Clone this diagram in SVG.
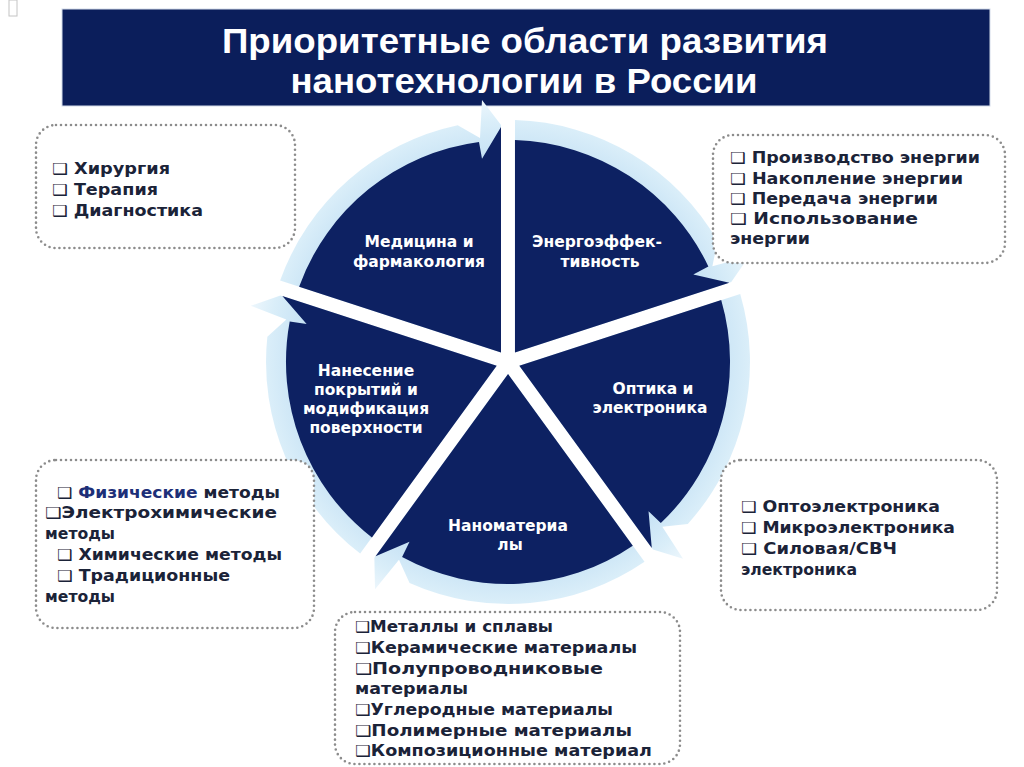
<svg xmlns="http://www.w3.org/2000/svg" width="1024" height="767" viewBox="0 0 1024 767">
<defs>
<radialGradient id="ringGrad" gradientUnits="userSpaceOnUse" cx="0" cy="0" r="262">
<stop offset="0.8" stop-color="#c8e3f5"/>
<stop offset="0.92" stop-color="#daeef9"/>
<stop offset="1" stop-color="#ecf6fc"/>
</radialGradient>
<path id="lightSeg" d="M-7,-9.6 L-227.9,-81.4 A242,242 0 0 1 -50.3,-236.7 L-28,-224 L-26,-262 L-7,-237 Z"/>
<path id="darkSeg" d="M-7,-9.6 L-208.9,-75.2 A222,222 0 0 1 -29,-220.1 L-26,-203.3 L-7,-235 Z"/>
</defs>
<style>
.title{font-family:"Liberation Sans Narrow","Liberation Sans",Arial,sans-serif;font-weight:bold;font-size:35px;fill:#ffffff}
.seglbl{font-family:"DejaVu Sans","Liberation Sans",sans-serif;font-weight:bold;font-size:15.5px;fill:#ffffff;text-anchor:middle}
.box{fill:#ffffff;stroke:#8c8c8c;stroke-width:2.6;stroke-dasharray:0 5;stroke-linecap:round}
.btxt{font-family:"DejaVu Sans","Liberation Sans",sans-serif;font-weight:bold;font-size:15.5px;fill:#1b2338}
.ring{fill:url(#ringGrad)}
.dark{fill:#0d2162}
</style>
<rect width="1024" height="767" fill="#ffffff"/>
<rect x="9" y="0" width="8" height="16" fill="none" stroke="#c4c4c4" stroke-width="1"/>

<g id="header">
<rect x="62" y="9" width="928" height="97" fill="#0b1e5b" stroke="#d4dcea" stroke-width="1"/>
<text class="title" x="525" y="53" text-anchor="middle" textLength="606" lengthAdjust="spacingAndGlyphs">Приоритетные области развития</text>
<text class="title" x="524" y="93" text-anchor="middle" textLength="467" lengthAdjust="spacingAndGlyphs">нанотехнологии в России</text>
</g>

<g id="connectors">
<g transform="translate(508,362)">
<use href="#lightSeg" class="ring"/>
<use href="#lightSeg" class="ring" transform="rotate(72)"/>
<use href="#lightSeg" class="ring" transform="rotate(144)"/>
<use href="#lightSeg" class="ring" transform="rotate(216)"/>
<use href="#lightSeg" class="ring" transform="rotate(288)"/>
</g>
</g>

<g id="box-medicine">
<rect class="box" x="36" y="125" width="259" height="123" rx="20"/>
<text class="btxt" x="52" y="174" textLength="118" lengthAdjust="spacingAndGlyphs">❑ Хирургия</text>
<text class="btxt" x="52" y="195" textLength="106" lengthAdjust="spacingAndGlyphs">❑ Терапия</text>
<text class="btxt" x="52" y="216" textLength="151" lengthAdjust="spacingAndGlyphs">❑ Диагностика</text>
</g>

<g id="box-energy">
<rect class="box" x="713" y="135" width="292" height="128" rx="20"/>
<text class="btxt" x="730" y="163" textLength="250" lengthAdjust="spacingAndGlyphs">❑ Производство энергии</text>
<text class="btxt" x="730" y="183.5" textLength="233" lengthAdjust="spacingAndGlyphs">❑ Накопление энергии</text>
<text class="btxt" x="730" y="204" textLength="208" lengthAdjust="spacingAndGlyphs">❑ Передача энергии</text>
<text class="btxt" x="730" y="224" textLength="188" lengthAdjust="spacingAndGlyphs">❑ Использование</text>
<text class="btxt" x="730" y="244" textLength="80" lengthAdjust="spacingAndGlyphs">энергии</text>
</g>

<g id="box-coating">
<rect class="box" x="36" y="460" width="278" height="168" rx="20"/>
<text class="btxt" x="57" y="498" textLength="223" lengthAdjust="spacingAndGlyphs">❑ <tspan fill="#1d2f78">Физические</tspan> методы</text>
<text class="btxt" x="45" y="518" textLength="232" lengthAdjust="spacingAndGlyphs">❑Электрохимические</text>
<text class="btxt" x="45" y="539" textLength="70" lengthAdjust="spacingAndGlyphs">методы</text>
<text class="btxt" x="57" y="560" textLength="225" lengthAdjust="spacingAndGlyphs">❑ Химические методы</text>
<text class="btxt" x="57" y="581" textLength="173" lengthAdjust="spacingAndGlyphs">❑ Традиционные</text>
<text class="btxt" x="45" y="602" textLength="70" lengthAdjust="spacingAndGlyphs">методы</text>
</g>

<g id="box-optics">
<rect class="box" x="721" y="460" width="276" height="150" rx="20"/>
<text class="btxt" x="741" y="512" textLength="199" lengthAdjust="spacingAndGlyphs">❑ Оптоэлектроника</text>
<text class="btxt" x="741" y="533" textLength="214" lengthAdjust="spacingAndGlyphs">❑ Микроэлектроника</text>
<text class="btxt" x="741" y="554" textLength="156" lengthAdjust="spacingAndGlyphs">❑ Силовая/СВЧ</text>
<text class="btxt" x="741" y="575" textLength="116" lengthAdjust="spacingAndGlyphs">электроника</text>
</g>

<g id="box-nano">
<rect class="box" x="335" y="612" width="345" height="152" rx="20"/>
<text class="btxt" x="355" y="632" textLength="198" lengthAdjust="spacingAndGlyphs">❑Металлы и сплавы</text>
<text class="btxt" x="355" y="652.5" textLength="282" lengthAdjust="spacingAndGlyphs">❑Керамические материалы</text>
<text class="btxt" x="355" y="673.5" textLength="248" lengthAdjust="spacingAndGlyphs">❑Полупроводниковые</text>
<text class="btxt" x="355" y="694" textLength="113" lengthAdjust="spacingAndGlyphs">материалы</text>
<text class="btxt" x="355" y="715" textLength="258" lengthAdjust="spacingAndGlyphs">❑Углеродные материалы</text>
<text class="btxt" x="355" y="735.5" textLength="277" lengthAdjust="spacingAndGlyphs">❑Полимерные материалы</text>
<text class="btxt" x="355" y="756" textLength="297" lengthAdjust="spacingAndGlyphs">❑Композиционные материал</text>
</g>

<g id="seg-medicine">
<use href="#darkSeg" class="dark" transform="translate(508,362)"/>
<text class="seglbl" x="419" y="247">Медицина и</text>
<text class="seglbl" x="419" y="267">фармакология</text>
</g>
<g id="seg-energy">
<use href="#darkSeg" class="dark" transform="translate(508,362) rotate(72)"/>
<text class="seglbl" x="597" y="247">Энергоэффек-</text>
<text class="seglbl" x="600" y="267">тивность</text>
</g>
<g id="seg-optics">
<use href="#darkSeg" class="dark" transform="translate(508,362) rotate(144)"/>
<text class="seglbl" x="653" y="394">Оптика и</text>
<text class="seglbl" x="650" y="413">электроника</text>
</g>
<g id="seg-nano">
<use href="#darkSeg" class="dark" transform="translate(508,362) rotate(216)"/>
<text class="seglbl" x="508" y="531">Наноматериа</text>
<text class="seglbl" x="510" y="550">лы</text>
</g>
<g id="seg-coating">
<use href="#darkSeg" class="dark" transform="translate(508,362) rotate(288)"/>
<text class="seglbl" x="366" y="376">Нанесение</text>
<text class="seglbl" x="366" y="395">покрытий и</text>
<text class="seglbl" x="366" y="414">модификация</text>
<text class="seglbl" x="366" y="433">поверхности</text>
</g>
</svg>
